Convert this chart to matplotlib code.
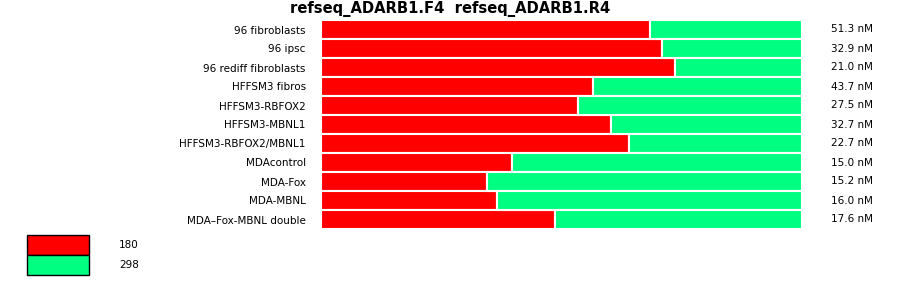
import numpy as np
import matplotlib.pyplot as plt
from matplotlib.patches import Rectangle

# --- Data ---
samples = ["96 fibroblasts", "96 ipsc", "96 rediff fibroblasts", "HFFSM3 fibros",
           "HFFSM3-RBFOX2", "HFFSM3-MBNL1", "HFFSM3-RBFOX2/MBNL1", "MDAcontrol",
           "MDA-Fox", "MDA-MBNL", "MDA–Fox-MBNL double"]
frac_180 = [0.684, 0.709, 0.736, 0.566, 0.534, 0.603, 0.641, 0.398, 0.346, 0.366, 0.487]
frac_298 = [1 - v for v in frac_180]
conc = ["51.3 nM", "32.9 nM", "21.0 nM", "43.7 nM", "27.5 nM", "32.7 nM",
        "22.7 nM", "15.0 nM", "15.2 nM", "16.0 nM", "17.6 nM"]
products = ["180", "298"]
colors = ["#ff0000", "#00ff80"]
title = "refseq_ADARB1.F4  refseq_ADARB1.R4"

W, H = 900, 299
fig = plt.figure(figsize=(W / 100, H / 100), dpi=100)

# axes placed by pixel box
x0, x1, y0, y1 = 321, 802, 20, 229
ax = fig.add_axes([x0 / W, 1 - y1 / H, (x1 - x0) / W, (y1 - y0) / H])

y = np.arange(len(samples))
ax.barh(y, frac_180, height=1.0, color=colors[0], edgecolor="white", linewidth=1.5)
ax.barh(y, frac_298, left=frac_180, height=1.0, color=colors[1], edgecolor="white", linewidth=1.5)

ax.set_xlim(0, 1)
ax.set_ylim(len(samples) - 0.5, -0.5)
ax.set_yticks(y)
ax.set_yticklabels(samples, fontsize=7.5)
ax.tick_params(axis="y", length=0, pad=11)
ax.set_xticks([])
for s in ax.spines.values():
    s.set_visible(False)

# concentration labels on the right
for yi, c in zip(y, conc):
    ax.text((852 - x0) / (x1 - x0), yi, c, transform=ax.get_yaxis_transform(),
            ha="center", va="center", fontsize=7.5)

fig.text(450 / W, 1 - 9 / H, title, ha="center", va="center",
         fontsize=10.6, fontweight="bold")

# legend boxes
for i, (lab, col) in enumerate(zip(products, colors)):
    top = 235 + i * 20
    fig.add_artist(Rectangle((27 / W, 1 - (top + 20) / H), 62 / W, 20 / H,
                             transform=fig.transFigure, facecolor=col,
                             edgecolor="black", linewidth=1))
    fig.text(119 / W, 1 - (top + 10) / H, lab, ha="left", va="center", fontsize=7.5)

fig.savefig("out.png", dpi=100)
